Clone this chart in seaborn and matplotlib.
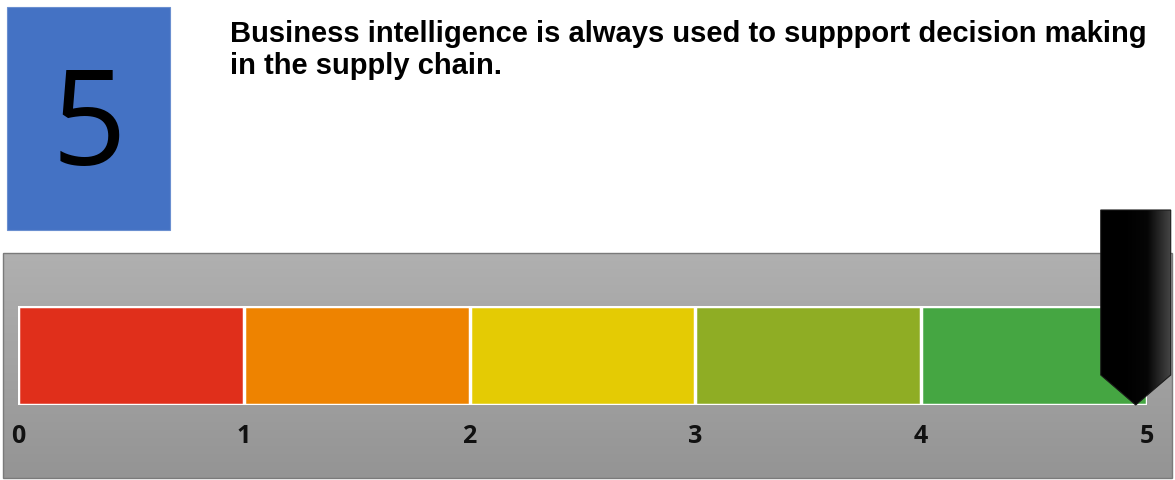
"""Score gauge card: numbered box, statement and a 0-5 colour scale with a pointer."""

import matplotlib

matplotlib.use('Agg')
import matplotlib.pyplot as plt
import numpy as np
import pandas as pd
import seaborn as sns
from matplotlib.colors import LinearSegmentedColormap
from matplotlib.patches import Polygon, Rectangle

# data
SCORE = 5
STATEMENT = 'Business intelligence is always used to suppport decision making\nin the supply chain.'
BANDS = ['0-1', '1-2', '2-3', '3-4', '4-5']
BAND_UPPER = [1, 2, 3, 4, 5]
BAND_COLORS = ['#e02f1b', '#ee8300', '#e4cb04', '#8fad24', '#45a642']
TICKS = [0, 1, 2, 3, 4, 5]

W, H = 1175, 480
BLUE = '#4472c4'


def px(x0, y0, x1, y1):
    # pixel box (top-left origin) -> figure fraction rect
    return [x0 / W, 1 - y1 / H, (x1 - x0) / W, (y1 - y0) / H]


def pixel_axes(zorder):
    a = fig.add_axes([0, 0, 1, 1], zorder=zorder)
    a.set_xlim(0, W)
    a.set_ylim(H, 0)
    a.set_facecolor('none')
    a.axis('off')
    return a


sns.set_theme(style='white')
plt.rcParams['font.family'] = ['Open Sans', 'DejaVu Sans']

fig = plt.figure(figsize=(W / 100, H / 100), dpi=100)
fig.patch.set_facecolor('white')

# background layer in pixel coords
bg = pixel_axes(0)
grad = np.linspace(0, 1, 256).reshape(-1, 1)
grey = LinearSegmentedColormap.from_list('grey', ['#b0b0b0', '#949494'])
bg.imshow(grad, cmap=grey, extent=(3, 1172, 478, 253), aspect='auto', zorder=0)
bg.add_patch(Rectangle((3, 253), 1169, 225, fill=False, edgecolor='#7a7a7a', linewidth=1, zorder=1))

bg.add_patch(Rectangle((7, 7), 163, 223, facecolor=BLUE, edgecolor='#6a8fd0', linewidth=0.8, zorder=1))
bg.text(89, 131, str(SCORE), fontsize=94, color='black', ha='center', va='center',
        family=['Open Sans', 'DejaVu Sans'], zorder=2)
bg.text(230, 20, STATEMENT, fontsize=21, fontweight='bold', color='black', ha='left', va='top',
        family=['Liberation Sans', 'DejaVu Sans'], linespacing=1.17, zorder=2)
bg.set_xlim(0, W)
bg.set_ylim(H, 0)

# the scale itself
ax = fig.add_axes(px(18, 306, 1147, 405), zorder=1)
ax.set_facecolor('none')
df = pd.DataFrame({'band': BANDS, 'upper': BAND_UPPER, 'color': BAND_COLORS})
# widest first, narrower bands drawn on top so their white edges mark the boundaries
for _, row in df.iloc[::-1].iterrows():
    sns.barplot(x=[row['upper']], y=[0], orient='h', color=row['color'], width=1.0,
                edgecolor='white', linewidth=2.5, saturation=1, ax=ax)
ax.set_xlim(0, 5)
ax.set_ylim(0.5, -0.5)
for s in ax.spines.values():
    s.set_visible(False)
ax.set_yticks([])
ax.set_ylabel('')
ax.set_xlabel('')
ax.set_xticks(TICKS)
ax.set_xticklabels([str(t) for t in TICKS], fontsize=18, fontweight='bold', color='#111111')
ax.tick_params(axis='x', length=0, pad=14)

# pointer: built around the score in scale units, then mapped to a pixel overlay
ov = pixel_axes(2)
cx = SCORE - 0.05
half = 35 / 225.8
top = -0.5 - 96 / 99
shoulder = 0.5 - 30 / 99
tip = 0.5
verts = np.array([(cx - half, top), (cx + half, top), (cx + half, shoulder), (cx, tip), (cx - half, shoulder)])
to_px = ax.transData + ov.transData.inverted()
pverts = to_px.transform(verts)
pointer = Polygon(pverts, closed=True, facecolor='none', edgecolor='#1a1a1a', linewidth=0.8, zorder=6)
ov.add_patch(pointer)
shade = LinearSegmentedColormap.from_list('shade', ['#000000', '#000000', '#060606', '#464646'])
x0, x1 = pverts[:, 0].min(), pverts[:, 0].max()
y0, y1 = pverts[:, 1].min(), pverts[:, 1].max()
img = ov.imshow(np.linspace(0, 1, 256).reshape(1, -1), cmap=shade, aspect='auto',
                extent=(x0, x1, y1, y0), zorder=5)
img.set_clip_path(pointer)
ov.set_xlim(0, W)
ov.set_ylim(H, 0)

fig.savefig('out.png', dpi=100)
